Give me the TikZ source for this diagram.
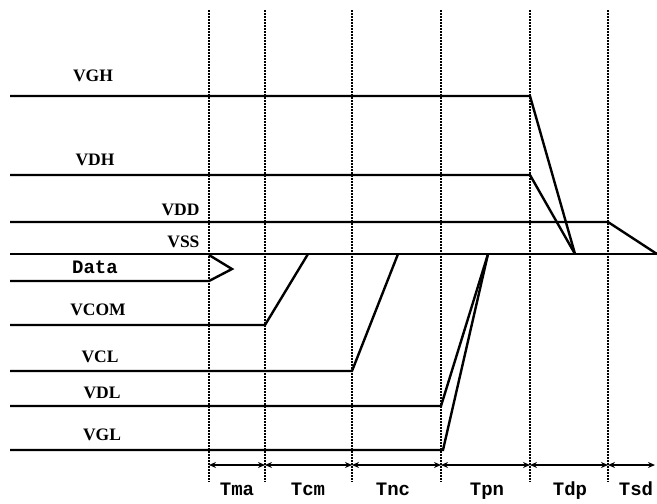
\documentclass[tikz,border=0pt]{standalone}
\usepackage{fontspec}
\setmainfont{Liberation Serif}
\setmonofont{Liberation Mono}
\usetikzlibrary{arrows.meta}
\begin{document}
\begin{tikzpicture}[x=1pt,y=-1pt,>={Stealth[length=7pt,width=6pt]},
  sig/.style={line width=2.4pt},
  mark line/.style={line width=1.6pt,dash pattern=on 2pt off 1pt},
  dim/.style={<->,line width=2pt},
  lbl/.style={anchor=base,font=\bfseries\fontsize{17.5}{20}\selectfont},
  tlbl/.style={anchor=base,font=\ttfamily\bfseries\fontsize{19}{21}\selectfont}]
\useasboundingbox (0,0) rectangle (657,504);
\foreach \i/\x in {1/209,2/265,3/352,4/441,5/530,6/608}{
  \coordinate (t\i) at (\x,465);
  \draw[mark line] (\x,10) -- (\x,482);
}
\coordinate (t7) at (655,465);
\draw[sig] (10,96) -- (530,96) -- (575,254);
\draw[sig] (10,175) -- (530,175) -- (575,254);
\draw[sig] (10,222) -- (608,222) -- (657,254);
\draw[sig] (10,254) -- (657,254);
\draw[sig] (10,281) -- (209,281) -- (232,269) -- (209,255);
\draw[sig] (10,325) -- (265,325) -- (308,254);
\draw[sig] (10,371) -- (352,371) -- (398,254);
\draw[sig] (10,406) -- (441,406) -- (488,254);
\draw[sig] (10,450) -- (443,450) -- (488,254);
\node[lbl] (vgh) at (93,81) {VGH};
\node[lbl] (vdh) at (95,165) {VDH};
\node[lbl,anchor=base east] (vdd) at (203,215) {VDD};
\node[lbl,anchor=base east] (vss) at (203,247) {VSS};
\node[tlbl] (data) at (95,273) {Data};
\node[lbl] (vcom) at (98,315) {VCOM};
\node[lbl] (vcl) at (100,362) {VCL};
\node[lbl] (vdl) at (102,398) {VDL};
\node[lbl] (vgl) at (102,440) {VGL};
\foreach \a/\b in {1/2,2/3,3/4,4/5,5/6,6/7}
  \draw[dim] (t\a) -- (t\b);
\node[tlbl] (tma) at (237,495) {Tma};
\node[tlbl] (tcm) at (308,495) {Tcm};
\node[tlbl] (tnc) at (393,495) {Tnc};
\node[tlbl] (tpn) at (487,495) {Tpn};
\node[tlbl] (tdp) at (570,495) {Tdp};
\node[tlbl] (tsd) at (636,495) {Tsd};
\end{tikzpicture}
\end{document}
